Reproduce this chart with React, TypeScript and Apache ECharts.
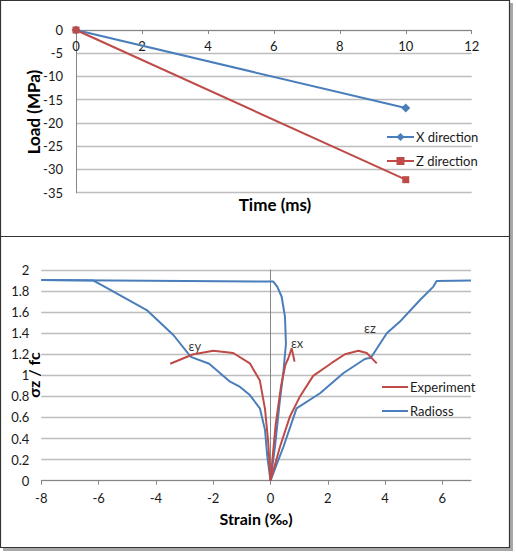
import React, { useEffect, useRef } from "react";
import * as echarts from "echarts";

// ---- Top chart data (Load vs Time) ----
const xDirection: [number, number][] = [[0, 0], [10, -16.8]];
const zDirection: [number, number][] = [[0, 0], [10, -32.2]];

// ---- Bottom chart data (σz/fc vs strain) ----
const radiossEy: [number, number][] = [
  [0, 0], [-0.11, 0.228], [-0.19, 0.48], [-0.37, 0.687], [-0.72, 0.813], [-1.06, 0.89],
  [-1.41, 0.94], [-2.14, 1.11], [-2.78, 1.175], [-3.39, 1.383], [-4.32, 1.62],
  [-5.89, 1.857], [-6.18, 1.9], [-8, 1.905],
];
const radiossEx: [number, number][] = [
  [0, 0], [0.157, 0.323], [0.33, 0.766], [0.447, 1.02], [0.54, 1.3], [0.506, 1.557],
  [0.39, 1.746], [0.24, 1.84], [0.1, 1.89], [-8, 1.905],
];
const radiossEz: [number, number][] = [
  [0, 0], [0.45, 0.32], [0.91, 0.687], [1.73, 0.83], [2.54, 1.02], [3.24, 1.146],
  [3.35, 1.16], [3.5, 1.165], [4.06, 1.4], [4.52, 1.51], [5.22, 1.715], [5.68, 1.84],
  [5.8, 1.895], [7.0, 1.9],
];
const expEy: [number, number][] = [
  [0, 0], [-0.077, 0.36], [-0.19, 0.68], [-0.37, 0.95], [-0.72, 1.114], [-1.3, 1.212],
  [-2.0, 1.233], [-2.72, 1.198], [-3.5, 1.11],
];
const expEx: [number, number][] = [
  [0, 0], [0.18, 0.53], [0.37, 0.9], [0.52, 1.1], [0.62, 1.16], [0.74, 1.257], [0.84, 1.13],
];
const expEz: [number, number][] = [
  [0, 0], [0.33, 0.32], [0.68, 0.61], [1.03, 0.8], [1.49, 0.995], [2.15, 1.12], [2.6, 1.2],
  [3.07, 1.234], [3.36, 1.212], [3.71, 1.114],
];
const annotations = [
  { name: "εy", value: [-2.64, 1.277] },
  { name: "εx", value: [0.93, 1.307] },
  { name: "εz", value: [3.47, 1.449] },
];

const BLUE = "#4A7EBB";
const RED = "#BE4B48";
const FONT = 'Lato, "DejaVu Sans", sans-serif';
const GRID = "#bdbdbd";
const AXIS = "#868686";

export default function App() {
  const ref = useRef<HTMLDivElement>(null);
  useEffect(() => {
    if (!ref.current) return;
    const chart = echarts.init(ref.current, undefined, { renderer: "svg" });
    const labelStyle = { color: "#1a1a1a", fontSize: 13, fontFamily: FONT };
    const legendText = { ...labelStyle, lineHeight: 14, padding: [0, 0, 0, -3] };
    const titleTop = { fill: "#000", font: `bold 17px ${FONT}` };
    const titleBottom = { fill: "#000", font: `bold 16px ${FONT}` };
    const lineIcon = "rect";
    chart.setOption({
      animation: false,
      backgroundColor: "#fff",
      graphic: [
        { type: "rect", z: -20, shape: { x: 3, y: 3, width: 510, height: 237 }, style: { fill: "#a8a8a8" } },
        { type: "rect", z: -20, shape: { x: 3, y: 240, width: 510, height: 311 }, style: { fill: "#a8a8a8" } },
        { type: "rect", z: -19, shape: { x: 0.5, y: 0.5, width: 509, height: 236 }, style: { fill: "#fff", stroke: "#333", lineWidth: 1.2 } },
        { type: "rect", z: -19, shape: { x: 0.5, y: 236.5, width: 509, height: 311 }, style: { fill: "#fff", stroke: "#333", lineWidth: 1.2 } },
        { type: "text", x: 33, y: 112, rotation: Math.PI / 2, style: { ...titleTop, text: "Load (MPa)", align: "center", verticalAlign: "middle" } },
        { type: "text", x: 275, y: 204, style: { ...titleTop, text: "Time (ms)", align: "center", verticalAlign: "middle" } },
        { type: "text", x: 33, y: 375, rotation: Math.PI / 2, style: { ...titleBottom, text: "σz / fc", align: "center", verticalAlign: "middle" } },
        { type: "text", x: 256, y: 518, style: { ...titleBottom, text: "Strain (‰)", align: "center", verticalAlign: "middle" } },
      ],
      grid: [
        { left: 76, top: 30, width: 395.7, height: 162.7 },
        { left: 41.3, top: 270, width: 429.7, height: 210.7 },
      ],
      legend: [
        {
          data: ["X direction", "Z direction"], orient: "vertical", left: 386, top: 130, padding: 0,
          itemWidth: 27, itemHeight: 10, itemGap: 10, textStyle: legendText,
        },
        {
          data: [
            { name: "Experiment", icon: lineIcon },
            { name: "Radioss", icon: lineIcon },
          ],
          orient: "vertical", left: 382, top: 380, padding: 0,
          itemWidth: 26, itemHeight: 2, itemGap: 10, textStyle: legendText,
        },
      ],
      xAxis: [
        {
          type: "value", gridIndex: 0, min: 0, max: 12, interval: 2, position: "top",
          axisLine: { onZero: false, lineStyle: { color: AXIS } },
          axisTick: { show: true, inside: true, length: 4, lineStyle: { color: AXIS } },
          axisLabel: { ...labelStyle, inside: true, margin: 9 },
          splitLine: { show: false },
        },
        {
          type: "value", gridIndex: 1, min: -8, max: 7, interval: 2,
          axisLine: { onZero: true, lineStyle: { color: AXIS } },
          axisTick: { show: true, length: 4, lineStyle: { color: AXIS } },
          axisLabel: { ...labelStyle, margin: 11, showMaxLabel: false },
          splitLine: { show: false },
        },
      ],
      yAxis: [
        {
          type: "value", gridIndex: 0, min: -35, max: 0, interval: 5,
          axisLine: { show: true, onZero: false, lineStyle: { color: AXIS } },
          axisTick: { show: false },
          axisLabel: { ...labelStyle, margin: 13 },
          splitLine: { show: true, lineStyle: { color: GRID, width: 1.3 } },
        },
        {
          type: "value", gridIndex: 1, min: 0, max: 2, interval: 0.2,
          axisLine: { show: true, onZero: true, lineStyle: { color: AXIS } },
          axisTick: { show: false },
          axisLabel: { ...labelStyle, margin: 12 },
          splitLine: { show: true, lineStyle: { color: GRID, width: 1.3 } },
        },
      ],
      series: [
        {
          name: "X direction", type: "line", xAxisIndex: 0, yAxisIndex: 0, data: xDirection,
          symbol: "diamond", symbolSize: 9, color: BLUE, lineStyle: { width: 2, color: BLUE },
        },
        {
          name: "Z direction", type: "line", xAxisIndex: 0, yAxisIndex: 0, data: zDirection,
          symbol: "rect", symbolSize: 7, color: RED, lineStyle: { width: 2, color: RED },
        },
        ...[radiossEy, radiossEx, radiossEz].map((d) => ({
          name: "Radioss", type: "line", xAxisIndex: 1, yAxisIndex: 1, data: d,
          symbol: "none", color: BLUE, lineStyle: { width: 2, color: BLUE },
        })),
        ...[expEy, expEx, expEz].map((d) => ({
          name: "Experiment", type: "line", xAxisIndex: 1, yAxisIndex: 1, data: d,
          symbol: "none", color: RED, lineStyle: { width: 2, color: RED },
        })),
        {
          name: "annotations", type: "scatter", xAxisIndex: 1, yAxisIndex: 1, data: annotations,
          symbolSize: 0, silent: true,
          label: { show: true, formatter: "{b}", position: "inside", color: "#000", fontSize: 13, fontFamily: FONT },
        },
      ],
    });
    return () => chart.dispose();
  }, []);
  return <div ref={ref} style={{ position: "absolute", left: 0, top: 0, width: 516, height: 554 }} />;
}
